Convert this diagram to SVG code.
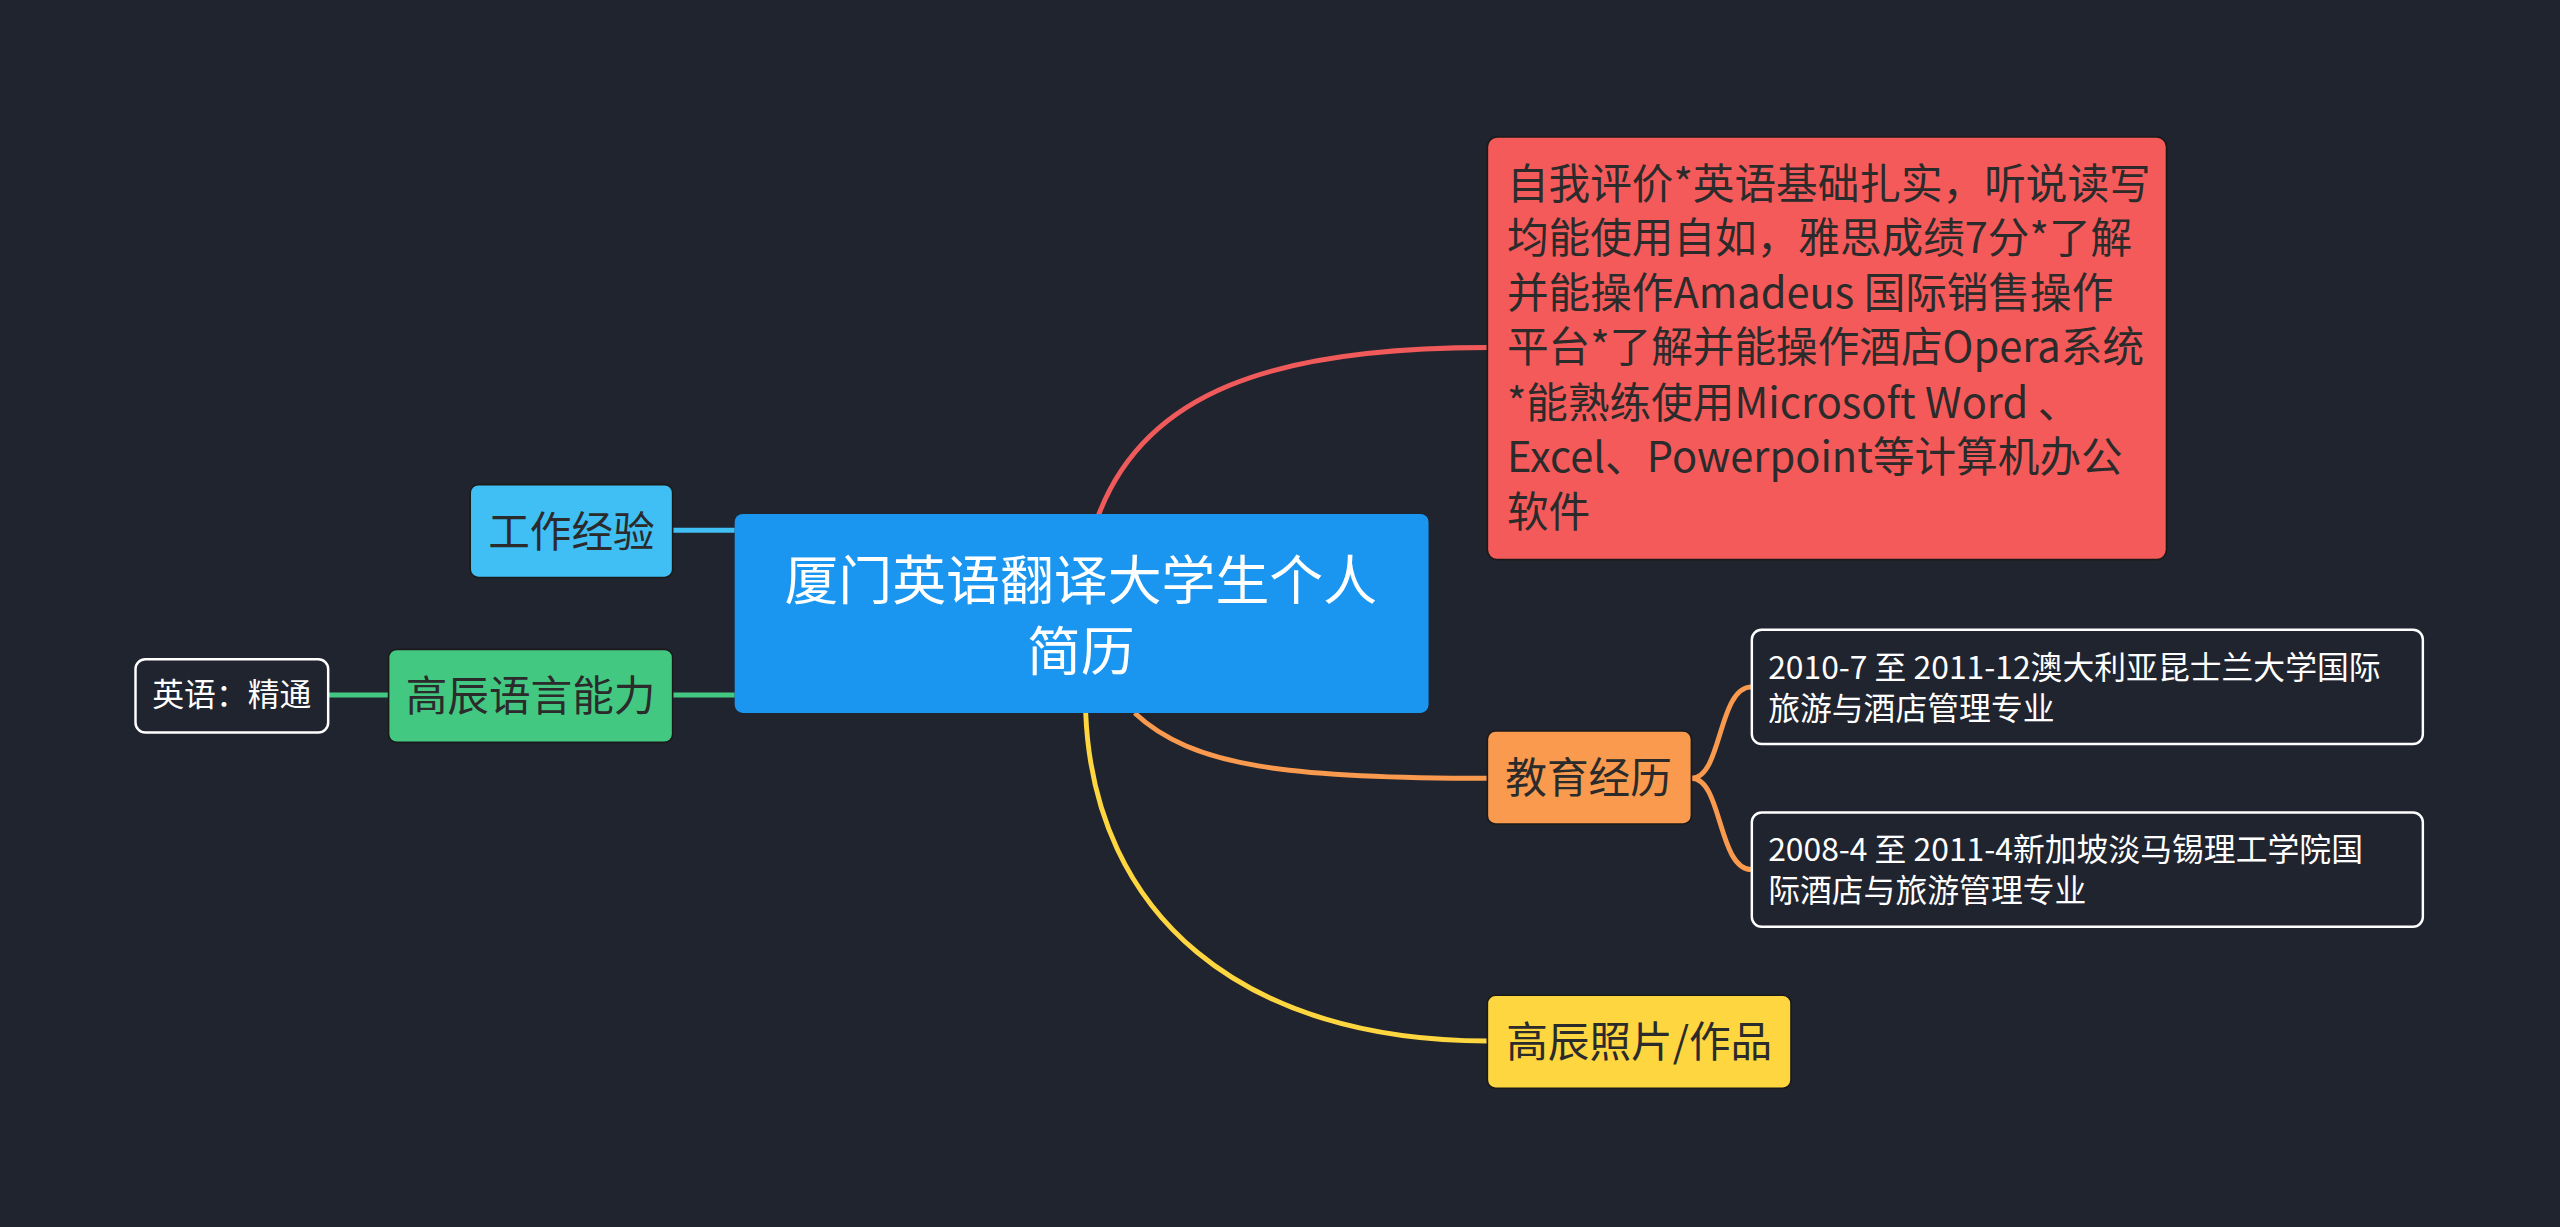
<svg xmlns="http://www.w3.org/2000/svg" width="2560" height="1227" viewBox="0 0 2560 1227">
<style>
text{font-family:"Noto Sans CJK SC","Noto Sans",sans-serif;}
.d{fill:#2b2b2b;font-size:25.5px}
.w{fill:#fff;font-size:19.5px}
.c{fill:none;stroke-width:3}
</style>
<rect width="2560" height="1227" fill="#20242f"/>
<g transform="scale(1.63265,1.6316)">
<g id="connectors">
<path class="c" stroke="#f05a5a" d="M672,318 C700,240 780,213 911,213"/>
<path class="c" stroke="#f99a4e" d="M695,437 C730,470 790,477 911,477"/>
<path class="c" stroke="#fdd640" d="M665,437 C670,560 760,638 911,638"/>
<path class="c" stroke="#40bff5" d="M412,325 H450"/>
<path class="c" stroke="#43c882" d="M412,426 H450 M201,426 H238"/>
<path class="c" stroke="#f99a4e" stroke-width="2" d="M1036,477 C1055,477 1052,421 1073,421 M1036,477 C1055,477 1052,533 1073,533"/>
</g>
<g id="center">
<rect x="450" y="315" width="425" height="122" rx="5" fill="#1a96f0"/>
<text x="662" y="368" text-anchor="middle" fill="#fff" font-size="33">厦门英语翻译大学生个人</text>
<text x="662" y="411" text-anchor="middle" fill="#fff" font-size="33">简历</text>
</g>
<g id="work">
<rect x="288" y="297" width="124" height="57" rx="5" fill="#40bff5" stroke="#1a1a1a"/>
<text class="d" x="350" y="335" text-anchor="middle">工作经验</text>
</g>
<g id="lang">
<rect x="238" y="398" width="174" height="57" rx="5" fill="#43c882" stroke="#1a1a1a"/>
<text class="d" x="325" y="436" text-anchor="middle">高辰语言能力</text>
</g>
<g id="eng">
<rect x="83" y="404" width="118" height="45" rx="6" fill="#20242f" stroke="#fff" stroke-width="1.5"/>
<text class="w" x="142" y="433" text-anchor="middle">英语：精通</text>
</g>
<g id="self">
<rect x="911" y="84" width="416" height="259" rx="6" fill="#f55a5a" stroke="#1a1a1a"/>
<text class="d" x="923" y="122">自我评价*英语基础扎实，听说读写</text>
<text class="d" x="923" y="155">均能使用自如，雅思成绩7分*了解</text>
<text class="d" x="923" y="189">并能操作Amadeus 国际销售操作</text>
<text class="d" x="923" y="222">平台*了解并能操作酒店Opera系统</text>
<text class="d" x="923" y="256">*能熟练使用Microsoft Word 、</text>
<text class="d" x="923" y="289">Excel、Powerpoint等计算机办公</text>
<text class="d" x="923" y="323">软件</text>
</g>
<g id="edu">
<rect x="911" y="448" width="125" height="57" rx="5" fill="#f99a4e" stroke="#1a1a1a"/>
<text class="d" x="973" y="486" text-anchor="middle">教育经历</text>
</g>
<g id="edu1">
<rect x="1073" y="386" width="411" height="70" rx="6" fill="#20242f" stroke="#fff" stroke-width="1.5"/>
<text class="w" x="1083" y="416">2010-7 至 2011-12澳大利亚昆士兰大学国际</text>
<text class="w" x="1083" y="441">旅游与酒店管理专业</text>
</g>
<g id="edu2">
<rect x="1073" y="498" width="411" height="70" rx="6" fill="#20242f" stroke="#fff" stroke-width="1.5"/>
<text class="w" x="1083" y="528">2008-4 至 2011-4新加坡淡马锡理工学院国</text>
<text class="w" x="1083" y="553">际酒店与旅游管理专业</text>
</g>
<g id="photo">
<rect x="911" y="610" width="186" height="57" rx="5" fill="#fdd640" stroke="#1a1a1a"/>
<text class="d" x="1004" y="648" text-anchor="middle">高辰照片/作品</text>
</g>
</g>
</svg>
